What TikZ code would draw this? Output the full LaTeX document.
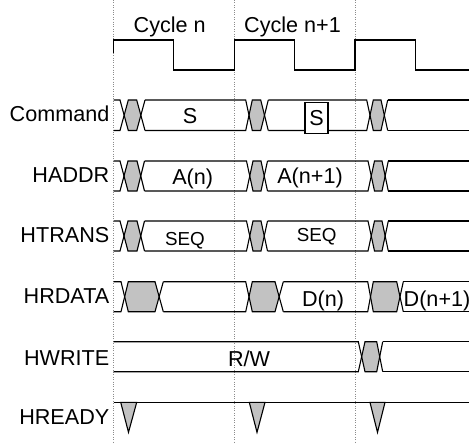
\documentclass[tikz,border=0pt]{standalone}
\usepackage{fontspec}
\setmainfont{Liberation Sans}
\begin{document}
\begin{tikzpicture}[x=1pt,y=-1pt,
  wire/.style={black,line width=1.1pt,line join=miter,line cap=butt},
  hexfill/.style={fill=black!24,draw=none},
  grid/.style={black!45,line width=0.6pt,dash pattern=on 0.8pt off 1.6pt},
  siglabel/.style={anchor=base east,inner sep=0pt,font=\fontsize{21.6}{24}\selectfont},
  val/.style={anchor=base,inner sep=0pt,font=\fontsize{21.6}{24}\selectfont},
  smallval/.style={anchor=base,inner sep=0pt,font=\fontsize{18.8}{22}\selectfont},
  sbox/.style={draw=black,fill=white,line width=1.1pt,minimum width=23pt,minimum height=30.6pt,inner sep=0pt}]
\useasboundingbox (0,0) rectangle (469,444);
% cycle grid lines
\foreach \gx in {113.7,234.5,355}{\draw[grid] (\gx,0) -- (\gx,444);}
% clock
\draw[wire] (113.7,53) -- (113.7,40) -- (173.3,40) -- (173.3,70) -- (234.5,70) -- (234.5,40)
  -- (294.3,40) -- (294.3,70) -- (355,70) -- (355,40) -- (415.7,40) -- (415.7,70) -- (469,70);
\node[val] (cyc1) at (169.7,33) {Cycle n};
\node[val] (cyc2) at (292.5,33) {Cycle n+1};
% bus macro: #1 top, #2 bottom, #3 list p/a/h/k/b, #4 last b
\newcommand{\busrow}[4]{%
  \foreach \p/\a/\h/\k/\b in {#3}{%
    \fill[hexfill] ({(\a+\h)/2},{(#1+#2)/2}) -- (\h,#1) -- (\k,#1) -- ({(\k+\b)/2},{(#1+#2)/2}) -- (\k,#2) -- (\h,#2) -- cycle;
    \draw[wire] (\p,#1) -- (\a,#1) -- (\h,#2) -- (\k,#2) -- (\b,#1);
    \draw[wire] (\p,#2) -- (\a,#2) -- (\h,#1) -- (\k,#1) -- (\b,#2);
  }%
  \draw[wire] (#4,#1) -- (469,#1);
  \draw[wire] (#4,#2) -- (469,#2);
}
% Command
\busrow{100}{130.5}{113.7/120/128.3/136.7/145, 145/245.7/252.3/260.7/268.3, 268.3/366.7/373.3/381/387.7}{387.7}
\node[siglabel] (lcmd) at (109.5,121.7) {Command};
\node[val] (vs1) at (190,123.3) {S};
\node[sbox] (vs2) at (316.5,118) {};
\node[val] (vs2t) at (316.5,125) {S};
% HADDR
\busrow{161}{191}{113.7/120/128/137/144.5, 144.5/246.5/253/261/267.5, 267.5/368/374.5/382/388.3}{388.3}
\node[siglabel] (laddr) at (109.5,182.3) {HADDR};
\node[val] (va1) at (192.7,184.3) {A(n)};
\node[val] (va2) at (310,183.5) {A(n+1)};
% HTRANS
\busrow{221}{251}{113.7/120/128/137/144.5, 144.5/246.5/253/261/267.5, 267.5/368/374.5/382/388.3}{388.3}
\node[siglabel] (ltrans) at (109.5,242.7) {HTRANS};
\node[smallval] (vt1) at (185,245) {SEQ};
\node[smallval] (vt2) at (316.7,241.7) {SEQ};
% HRDATA
\busrow{281.7}{311.7}{113.7/121/128.3/155/163.3, 163.3/245.7/252.3/275/283.3, 283.3/367.7/373.3/396.7/403.3}{403.3}
\node[siglabel] (ldata) at (109.5,303.3) {HRDATA};
\node[val] (vd1) at (323,306) {D(n)};
\node[anchor=base west,inner sep=0pt,font=\fontsize{21.6}{24}\selectfont] (vd2) at (403.5,306) {D(n+1)};
% HWRITE
\busrow{341.7}{371.7}{113.7/358.3/365/376.7/382.7}{382.7}
\node[siglabel] (lwrite) at (109.5,365.7) {HWRITE};
\node[val] (vw) at (249,366) {R/W};
% HREADY
\draw[wire] (113.7,402.3) -- (469,402.3);
\foreach \l/\r/\m in {120.7/136.7/128.5, 249.3/265/257, 370/385/377.5}{%
  \filldraw[fill=black!24,draw=black,line width=1.1pt,line join=miter] (\l,402.3) -- (\r,402.3) -- (\m,432.3) -- cycle;}
\node[siglabel] (lready) at (109.5,424.3) {HREADY};
\end{tikzpicture}
\end{document}
